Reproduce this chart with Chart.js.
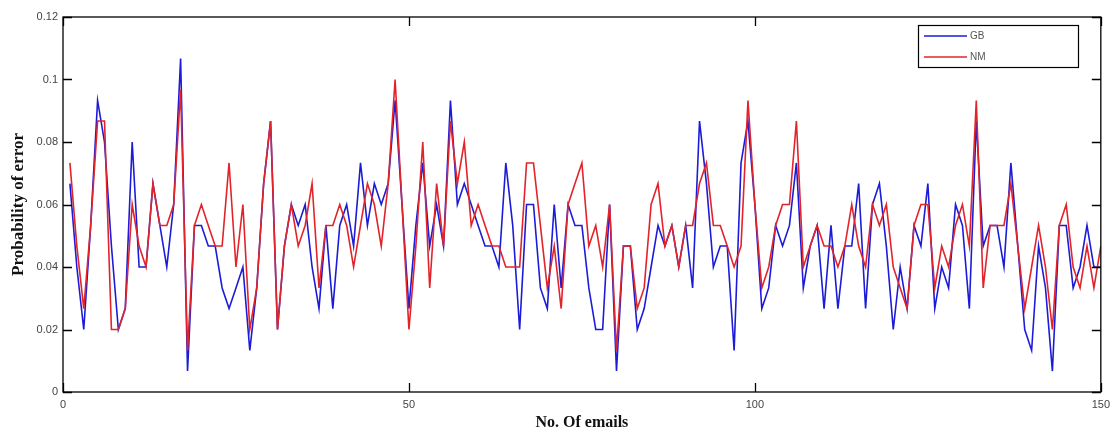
<!DOCTYPE html>
<html>
<head>
<meta charset="utf-8">
<script src="https://cdn.jsdelivr.net/npm/chart.js@4.4.1/dist/chart.umd.min.js"></script>
<style>
  html, body { margin: 0; padding: 0; background: #ffffff; }
  #wrap { width: 1116px; height: 435px; position: relative; }
</style>
</head>
<body>
<div id="wrap"><canvas id="c"></canvas></div>
<script>
// ---- data ----
const seriesNames = ['GB', 'NM'];
const emails = Array.from({ length: 150 }, (_, i) => i + 1);
const xTicks = [0, 50, 100, 150];
const yTicks = [0, 0.02, 0.04, 0.06, 0.08, 0.1, 0.12];

const gb = [
  0.0667, 0.04, 0.02, 0.0533, 0.0933, 0.08, 0.0467, 0.02, 0.0267, 0.08,
  0.04, 0.04, 0.0667, 0.0533, 0.04, 0.06, 0.1067, 0.0067, 0.0533, 0.0533,
  0.0467, 0.0467, 0.0333, 0.0267, 0.0333, 0.04, 0.0133, 0.0333, 0.0667, 0.0867,
  0.02, 0.0467, 0.06, 0.0533, 0.06, 0.04, 0.0267, 0.0533, 0.0267, 0.0533,
  0.06, 0.0467, 0.0733, 0.0533, 0.0667, 0.06, 0.0667, 0.0933, 0.06, 0.0267,
  0.0533, 0.0733, 0.0467, 0.06, 0.0467, 0.0933, 0.06, 0.0667, 0.06, 0.0533,
  0.0467, 0.0467, 0.04, 0.0733, 0.0533, 0.02, 0.06, 0.06, 0.0333, 0.0267,
  0.06, 0.0333, 0.06, 0.0533, 0.0533, 0.0333, 0.02, 0.02, 0.06, 0.0067,
  0.0467, 0.0467, 0.02, 0.0267, 0.04, 0.0533, 0.0467, 0.0533, 0.04, 0.0533,
  0.0333, 0.0867, 0.0667, 0.04, 0.0467, 0.0467, 0.0133, 0.0733, 0.0867, 0.06,
  0.0267, 0.0333, 0.0533, 0.0467, 0.0533, 0.0733, 0.0333, 0.0467, 0.0533, 0.0267,
  0.0533, 0.0267, 0.0467, 0.0467, 0.0667, 0.0267, 0.06, 0.0667, 0.0467, 0.02,
  0.04, 0.0267, 0.0533, 0.0467, 0.0667, 0.0267, 0.04, 0.0333, 0.06, 0.0533,
  0.0267, 0.0867, 0.0467, 0.0533, 0.0533, 0.04, 0.0733, 0.0467, 0.02, 0.0133,
  0.0467, 0.0333, 0.0067, 0.0533, 0.0533, 0.0333, 0.04, 0.0533, 0.04, 0.04
];
const nm = [
  0.0733, 0.0467, 0.0267, 0.0533, 0.0867, 0.0867, 0.02, 0.02, 0.0267, 0.06,
  0.0467, 0.04, 0.0667, 0.0533, 0.0533, 0.06, 0.0967, 0.0133, 0.0533, 0.06,
  0.0533, 0.0467, 0.0467, 0.0733, 0.04, 0.06, 0.02, 0.0333, 0.0667, 0.0867,
  0.02, 0.0467, 0.06, 0.0467, 0.0533, 0.0667, 0.0333, 0.0533, 0.0533, 0.06,
  0.0533, 0.04, 0.0533, 0.0667, 0.06, 0.0467, 0.0667, 0.1, 0.06, 0.02,
  0.0467, 0.08, 0.0333, 0.0667, 0.0467, 0.0867, 0.0667, 0.08, 0.0533, 0.06,
  0.0533, 0.0467, 0.0467, 0.04, 0.04, 0.04, 0.0733, 0.0733, 0.0533, 0.0333,
  0.0467, 0.0267, 0.06, 0.0667, 0.0733, 0.0467, 0.0533, 0.04, 0.06, 0.0133,
  0.0467, 0.0467, 0.0267, 0.0333, 0.06, 0.0667, 0.0467, 0.0533, 0.04, 0.0533,
  0.0533, 0.0667, 0.0733, 0.0533, 0.0533, 0.0467, 0.04, 0.0467, 0.0933, 0.06,
  0.0333, 0.04, 0.0533, 0.06, 0.06, 0.0867, 0.04, 0.0467, 0.0533, 0.0467,
  0.0467, 0.04, 0.0467, 0.06, 0.0467, 0.04, 0.06, 0.0533, 0.06, 0.04,
  0.0333, 0.0267, 0.0533, 0.06, 0.06, 0.0333, 0.0467, 0.04, 0.0533, 0.06,
  0.0467, 0.0933, 0.0333, 0.0533, 0.0533, 0.0533, 0.0667, 0.0467, 0.0267, 0.04,
  0.0533, 0.04, 0.02, 0.0533, 0.06, 0.04, 0.0333, 0.0467, 0.0333, 0.0467
];

const colors = ['#1c1cd8', '#e2242a'];
const toPts = arr => arr.map((v, i) => ({ x: emails[i], y: v }));

// frame, inward ticks (MATLAB style) and boxed legend
const framePlugin = {
  id: 'frame',
  afterDraw(chart) {
    const { ctx, chartArea: a, scales } = chart;
    const xs = scales.x, ys = scales.y;
    const L = 9;
    ctx.save();
    ctx.strokeStyle = '#000';
    ctx.lineWidth = 1.3;
    ctx.strokeRect(a.left, a.top, a.right - a.left, a.bottom - a.top);
    ctx.beginPath();
    yTicks.forEach(v => {
      const py = Math.round(ys.getPixelForValue(v)) + 0.5;
      ctx.moveTo(a.left, py); ctx.lineTo(a.left + L, py);
      ctx.moveTo(a.right, py); ctx.lineTo(a.right - L, py);
    });
    xTicks.forEach(v => {
      const px = Math.round(xs.getPixelForValue(v)) + 0.5;
      ctx.moveTo(px, a.bottom); ctx.lineTo(px, a.bottom - L);
      ctx.moveTo(px, a.top); ctx.lineTo(px, a.top + L);
    });
    ctx.stroke();

    // legend box
    const bx = 918, by = 25, bw = 160, bh = 42;
    ctx.fillStyle = '#fff';
    ctx.fillRect(bx, by, bw, bh);
    ctx.lineWidth = 1.2;
    ctx.strokeRect(bx + 0.5, by + 0.5, bw, bh);
    ctx.font = '10px "Liberation Sans", Arial, sans-serif';
    ctx.textBaseline = 'middle';
    chart.data.datasets.forEach((ds, i) => {
      const yy = by + 11 + i * 21;
      ctx.strokeStyle = ds.borderColor;
      ctx.lineWidth = 1.5;
      ctx.beginPath();
      ctx.moveTo(bx + 6, yy); ctx.lineTo(bx + 49, yy);
      ctx.stroke();
      ctx.fillStyle = '#555';
      ctx.fillText(ds.label, bx + 52, yy);
    });
    ctx.restore();
  }
};

new Chart(document.getElementById('c'), {
  type: 'line',
  data: {
    datasets: [
      { label: seriesNames[0], data: toPts(gb), borderColor: colors[0], borderWidth: 1.6, pointRadius: 0, tension: 0, order: 1 },
      { label: seriesNames[1], data: toPts(nm), borderColor: colors[1], borderWidth: 1.6, pointRadius: 0, tension: 0, order: 0 }
    ]
  },
  options: {
    responsive: true,
    maintainAspectRatio: false,
    animation: false,
    layout: { padding: { left: 0, right: 15, top: 17, bottom: 0 } },
    plugins: { legend: { display: false }, tooltip: { enabled: false } },
    scales: {
      x: {
        type: 'linear', min: 0, max: 150,
        grid: { display: false, drawTicks: false },
        border: { display: false },
        afterBuildTicks: s => { s.ticks = xTicks.map(v => ({ value: v })); },
        afterFit: s => { s.height = 43; },
        ticks: { padding: 6, color: '#444', font: { family: '"Liberation Sans", Arial, sans-serif', size: 11 }, maxRotation: 0 },
        title: { display: true, text: 'No. Of emails', color: '#111', padding: { top: 0, bottom: 3 },
                 font: { family: '"Liberation Serif", "Times New Roman", serif', size: 16, weight: 'bold' } }
      },
      y: {
        min: 0, max: 0.12,
        grid: { display: false, drawTicks: false },
        border: { display: false },
        afterBuildTicks: s => { s.ticks = yTicks.map(v => ({ value: v })); },
        afterFit: s => { s.width = 63; },
        ticks: { padding: 5, color: '#444', font: { family: '"Liberation Sans", Arial, sans-serif', size: 11 },
                 callback: v => String(+v.toFixed(2)) },
        title: { display: true, text: 'Probability of error', color: '#111', padding: { top: 8, bottom: 0 },
                 font: { family: '"Liberation Serif", "Times New Roman", serif', size: 17, weight: 'bold' } }
      }
    }
  },
  plugins: [framePlugin]
});
</script>
</body>
</html>
